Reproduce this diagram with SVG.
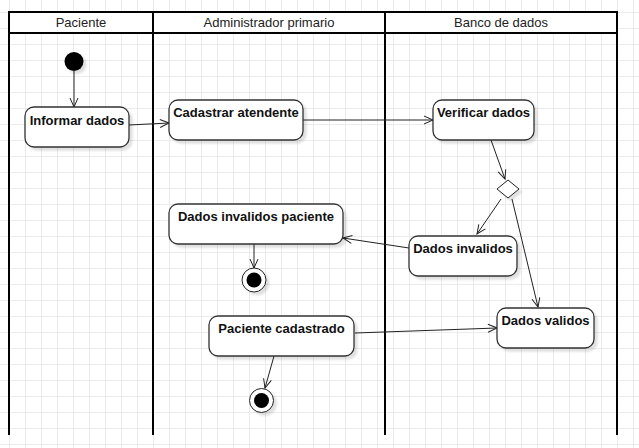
<svg xmlns="http://www.w3.org/2000/svg" width="639" height="448" viewBox="0 0 639 448">
<style>
.lane{fill:none;stroke:#000;stroke-width:2}
.hdr{fill:#fff;stroke:#000;stroke-width:2}
.ht{font-family:"Liberation Sans",Arial,sans-serif;font-size:13px;fill:#222;text-anchor:middle}
.box{fill:#fff;stroke:#333;stroke-width:1.3}
.bt{font-family:"Liberation Sans",Arial,sans-serif;font-size:13px;font-weight:bold;fill:#111;text-anchor:middle}
.edge{fill:none;stroke:#222;stroke-width:1;marker-end:url(#open)}
.sh{filter:url(#shadow)}
</style>
<defs>
<pattern id="grid" x="9" y="12" width="16" height="16" patternUnits="userSpaceOnUse">
<path d="M0 0.5H16M0.5 0V16" stroke="#ebebeb" stroke-width="1" fill="none"/>
</pattern>
<filter id="shadow" x="-20%" y="-20%" width="150%" height="150%">
<feDropShadow dx="3" dy="3" stdDeviation="1" flood-color="#000" flood-opacity="0.12"/>
</filter>
<marker id="open" viewBox="-11 -6 12 12" refX="0" refY="0" markerWidth="12" markerHeight="12" markerUnits="userSpaceOnUse" orient="auto">
<path d="M-9,-4 L0,0 L-9,4" fill="none" stroke="#222" stroke-width="1"/>
</marker>
</defs>
<rect width="639" height="448" fill="#fff"/>
<rect width="639" height="448" fill="url(#grid)"/>

<g id="lanes">
<rect class="hdr" x="9" y="12" width="608" height="21"/>
<path class="lane" d="M9 12V435M153 12V435M385 12V435M617 12V435"/>
<text class="ht" x="81" y="27">Paciente</text>
<text class="ht" x="269" y="27">Administrador primario</text>
<text class="ht" x="501" y="27">Banco de dados</text>
</g>

<g id="connectors">
<path class="edge" d="M74 71L74 107"/>
<path class="edge" d="M129 125L169 123"/>
<path class="edge" d="M303 120L433 120"/>
<path class="edge" d="M491 140L505 179"/>
<path class="edge" d="M501 199L477 234"/>
<path class="edge" d="M512 199L538 307"/>
<path class="edge" d="M409 248L343 238"/>
<path class="edge" d="M254 244L254 268"/>
<path class="edge" d="M355 333L497 328"/>
<path class="edge" d="M274 356L265 388"/>
</g>

<g id="start">
<circle class="sh" cx="74" cy="61.5" r="9.5" fill="#000"/>
</g>
<g id="informar">
<rect class="box sh" x="25" y="107" width="104" height="40" rx="9"/>
<text class="bt" x="77" y="125">Informar dados</text>
</g>
<g id="cadastrar">
<rect class="box sh" x="169" y="100" width="134" height="40" rx="9"/>
<text class="bt" x="236" y="117">Cadastrar atendente</text>
</g>
<g id="verificar">
<rect class="box sh" x="433" y="100" width="101" height="40" rx="9"/>
<text class="bt" x="483.5" y="117">Verificar dados</text>
</g>
<g id="decision">
<path class="sh" d="M508 180L519 189L508 198L497 189Z" fill="#fff" stroke="#222" stroke-width="1"/>
</g>
<g id="invalidos">
<rect class="box sh" x="409" y="236" width="108" height="40" rx="9"/>
<text class="bt" x="463" y="253">Dados invalidos</text>
</g>
<g id="validos">
<rect class="box sh" x="497" y="308" width="97" height="40" rx="9"/>
<text class="bt" x="545.5" y="325">Dados validos</text>
</g>
<g id="invalidosPaciente">
<rect class="box sh" x="169" y="204" width="174" height="40" rx="9"/>
<text class="bt" x="256" y="221">Dados invalidos paciente</text>
</g>
<g id="end1">
<circle class="sh" cx="254" cy="280" r="12" fill="#fff" stroke="#222" stroke-width="1"/>
<circle cx="254" cy="280" r="7.5" fill="#000"/>
</g>
<g id="cadastrado">
<rect class="box sh" x="209" y="316" width="145" height="40" rx="9"/>
<text class="bt" x="281.5" y="333">Paciente cadastrado</text>
</g>
<g id="end2">
<circle class="sh" cx="261.5" cy="400.5" r="12" fill="#fff" stroke="#222" stroke-width="1"/>
<circle cx="261.5" cy="400.5" r="7.5" fill="#000"/>
</g>
</svg>
